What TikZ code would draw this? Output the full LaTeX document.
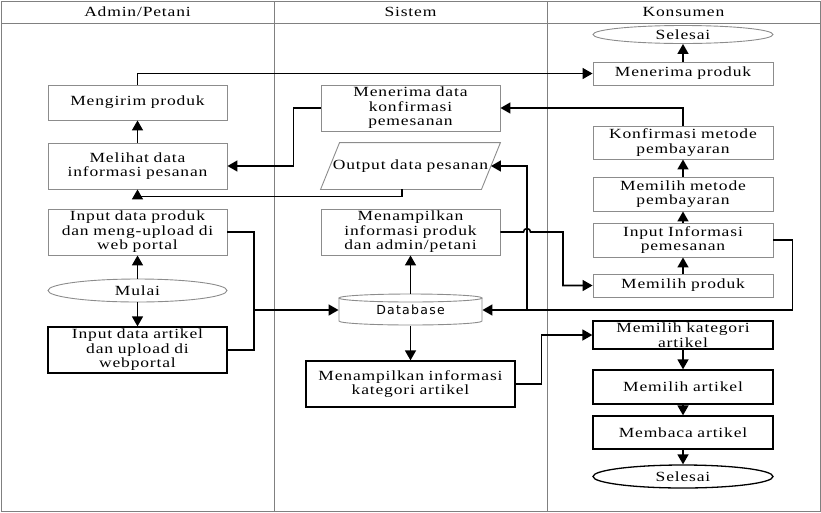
\documentclass[tikz,border=0pt]{standalone}
\usepackage{fontspec}
\setmainfont{Liberation Serif}[FakeStretch=1.25,LetterSpace=6]
\newfontfamily\dbfont{DejaVu Sans}[LetterSpace=10]
\usetikzlibrary{arrows.meta,shapes.geometric}

\definecolor{lanegrey}{RGB}{128,128,128}
\definecolor{boxgrey}{RGB}{140,140,140}

\tikzset{
  box/.style={draw=boxgrey, line width=0.9pt, minimum width=179pt, inner sep=0pt,
    text width=178pt, align=center, font=\fontsize{14}{14.5}\selectfont},
  darkbox/.style={box, draw=black, line width=1.3pt},
  term/.style={box, ellipse, text width=, align=center},
  line/.style={line width=1.6pt},
  conn/.style={line, -{Triangle[length=10pt,width=11pt]}}
}

\begin{document}
\begin{tikzpicture}[x=1pt,y=-1pt]
            \useasboundingbox (0,0) rectangle (821,512);

            % Lanes
            \draw[lanegrey, line width=1pt] (1,1) rectangle (820,511);
            \draw[lanegrey, line width=1pt] (1,23) -- (820,23);
            \draw[lanegrey, line width=1pt] (274,1) -- (274,511);
            \draw[lanegrey, line width=1pt] (547,1) -- (547,511);
            \node[font=\fontsize{14}{14.5}\selectfont] (hadmin) at (137.5,12) {Admin/Petani};
            \node[font=\fontsize{14}{14.5}\selectfont] (hsistem) at (410.5,12) {Sistem};
            \node[font=\fontsize{14}{14.5}\selectfont] (hkonsumen) at (683.5,12) {Konsumen};

            % Admin/Petani
            \node[box, minimum height=35pt] (kirim) at (137.5,102.5) {Mengirim produk};
            \node[box, minimum height=46pt] (lihat) at (137.5,166) {Melihat data\\informasi pesanan};
            \node[box, minimum height=46pt] (inprod) at (137.5,232) {Input data produk\\dan meng-upload di\\web portal};
            \node[term, minimum height=23pt] (mulai) at (137.5,290.5) {Mulai};
            \node[darkbox, minimum height=46pt] (inart) at (137.5,350) {Input data artikel\\dan upload di\\webportal};

            % Sistem
            \node[box, minimum height=46pt] (terima) at (410.5,108) {Menerima data\\konfirmasi\\pemesanan};
            \node[box, draw=none, minimum height=46pt] (out) at (410.5,166) {Output data pesanan};
            \draw[boxgrey, line width=0.9pt] ([xshift=19pt]out.north west) -- (out.north east)
              -- ([xshift=-19pt]out.south east) -- (out.south west) -- cycle;
            \node[box, minimum height=46pt] (tampil) at (410.5,232) {Menampilkan\\informasi produk\\dan admin/petani};
            \node[box, draw=none, minimum width=143pt, minimum height=31pt, text width=, font=\dbfont\fontsize{12.5}{14}\selectfont] (db) at (410.5,310) {Database};
            \draw[boxgrey, line width=0.9pt] (339,298) -- (339,321)
              arc[start angle=180, end angle=360, x radius=71.5pt, y radius=4pt] -- (482,298);
            \draw[boxgrey, line width=0.9pt] (410.5,298) ellipse[x radius=71.5pt, y radius=4pt];
            \node[darkbox, minimum width=209pt, text width=207pt, minimum height=46pt] (kat) at (410.5,384) {Menampilkan informasi\\kategori artikel};

            % Konsumen
            \node[term, minimum width=180pt, minimum height=18pt] (selesaia) at (683,34.5) {Selesai};
            \node[box, minimum width=180pt, minimum height=23pt] (menerima) at (683,73.5) {Menerima produk};
            \node[box, minimum width=180pt, minimum height=33pt] (konf) at (683,142.5) {Konfirmasi metode\\pembayaran};
            \node[box, minimum width=180pt, minimum height=34pt] (metode) at (683,194) {Memilih metode\\pembayaran};
            \node[box, minimum width=180pt, minimum height=34pt] (ininfo) at (683,240) {Input Informasi\\pemesanan};
            \node[box, minimum width=180pt, minimum height=23pt] (pilih) at (683,285.5) {Memilih produk};
            \node[darkbox, minimum width=180pt, minimum height=28pt] (pkat) at (683,335) {Memilih kategori\\artikel};
            \node[darkbox, minimum width=180pt, minimum height=34pt] (part) at (683,387) {Memilih artikel};
            \node[darkbox, minimum width=180pt, minimum height=33pt] (baca) at (683,432.5) {Membaca artikel};
            \node[term, draw=black, line width=1.3pt, minimum width=180pt, minimum height=23pt] (selesaib) at (683,476.5) {Selesai};

            % Alur admin
            \draw[conn] (mulai) -- (inprod);
            \draw[conn] (mulai) -- (inart);
            \draw[conn] (lihat) -- (kirim);
            \draw[conn] (kirim.north) |- (menerima.west);
            \draw[conn] (terima.west) -- ++(-27,0) |- (lihat.east);
            \draw[conn] ([xshift=-8.5pt]out.south) -- ++(0,7) -| (lihat.south);
            \coordinate (gabung) at (254,310);
            \draw[line] (inprod.east) -| (gabung);
            \draw[line] (inart.east) -| (gabung);
            \draw[conn] (gabung) -- (db.west);

            % Alur sistem
            \draw[conn] (db.north) -- (tampil.south);
            \draw[conn] (db.south) -- (kat.north);
            \draw[conn] (tampil.east) -- (523.5,232)
              arc[start angle=180, end angle=0, radius=3.5pt] -- (563,232) |- (pilih.west);

            % Alur konsumen
            \draw[conn] (pilih) -- (ininfo);
            \draw[conn] (ininfo) -- (metode);
            \draw[conn] (metode) -- (konf);
            \draw[conn] (konf.north) |- (terima.east);
            \draw[conn] (ininfo.east) -- ++(19,0) |- (db.east);
            \coordinate (cabang) at (527,310);
            \draw[conn] (cabang) |- ([xshift=-9.5pt]out.east);
            \draw[conn] (menerima) -- (selesaia);
            \draw[conn] (kat.east) -- ++(26,0) |- (pkat.west);
            \draw[conn] (pkat) -- (part);
            \draw[conn] (part) -- (baca);
            \draw[conn] (baca) -- (selesaib);
        \end{tikzpicture}
\end{document}
